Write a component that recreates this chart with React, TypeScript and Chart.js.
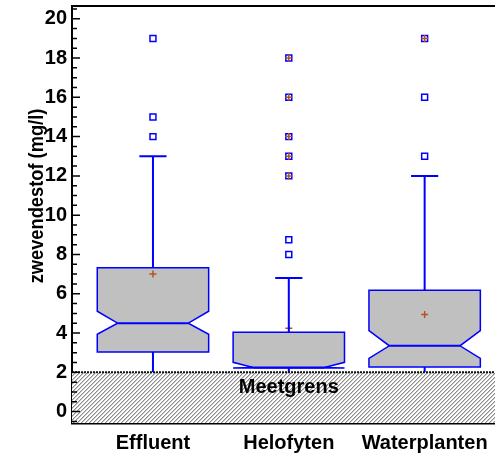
import React, { useEffect, useRef } from 'react';
import { Chart, registerables } from 'chart.js';

Chart.register(...registerables);

const categories = ['Effluent', 'Helofyten', 'Waterplanten'];
const positions = [1, 2, 3];
const whiskerLow = [2, 2, 2];
const q1 = [3.04, 2.22, 2.27];
const median = [4.5, 2.24, 3.35];
const q3 = [7.33, 4.04, 6.18];
const notchLow = [3.94, 2.22, 2.71];
const notchHigh = [5.11, 2.51, 4.12];
const whiskerHigh = [13, 6.8, 12];
const means = [7.0, 4.24, 4.95];
const outliers = [[14, 15, 19], [8, 8.75], [13, 16]];
const farOutliers = [[], [12, 13, 14, 16, 18], [19]];
const yTicks = [0, 2, 4, 6, 8, 10, 12, 14, 16, 18, 20];
const detectionLimit = 2;
const detectionLabel = 'Meetgrens';
const yTitle = 'zwevendestof (mg/l)';

const FONT = "'Liberation Sans', Arial, sans-serif";
const BLUE = '#0000ff';
const BROWN = '#b4541e';

const boxPlugin = {
  id: 'boxPlugin',
  beforeDatasetsDraw(chart: any) {
    const { ctx, scales } = chart;
    const x = scales.x;
    const y = scales.y;
    const halfW = 0.41;
    const innerW = 0.26;
    ctx.save();
    positions.forEach((p, i) => {
      const L = x.getPixelForValue(p - halfW);
      const R = x.getPixelForValue(p + halfW);
      const iL = x.getPixelForValue(p - innerW);
      const iR = x.getPixelForValue(p + innerW);
      const yq3 = y.getPixelForValue(q3[i]);
      const yq1 = y.getPixelForValue(q1[i]);
      const ynh = y.getPixelForValue(notchHigh[i]);
      const ynl = y.getPixelForValue(notchLow[i]);
      const ym = y.getPixelForValue(median[i]);
      ctx.beginPath();
      ctx.moveTo(L, yq3);
      ctx.lineTo(R, yq3);
      ctx.lineTo(R, ynh);
      ctx.lineTo(iR, ym);
      ctx.lineTo(R, ynl);
      ctx.lineTo(R, yq1);
      ctx.lineTo(L, yq1);
      ctx.lineTo(L, ynl);
      ctx.lineTo(iL, ym);
      ctx.lineTo(L, ynh);
      ctx.closePath();
      ctx.fillStyle = '#c0c0c0';
      ctx.fill();
      ctx.strokeStyle = BLUE;
      ctx.lineWidth = 1.5;
      ctx.stroke();
      ctx.beginPath();
      ctx.moveTo(iL, ym);
      ctx.lineTo(iR, ym);
      ctx.lineWidth = 2;
      ctx.stroke();
    });
    ctx.restore();
  },
  afterDatasetsDraw(chart: any) {
    const { ctx, scales, chartArea } = chart;
    const x = scales.x;
    const y = scales.y;
    const capW = 0.1;
    ctx.save();
    ctx.strokeStyle = BLUE;
    ctx.lineWidth = 2;
    positions.forEach((p, i) => {
      const cx = x.getPixelForValue(p);
      ctx.beginPath();
      ctx.moveTo(cx, y.getPixelForValue(q3[i]));
      ctx.lineTo(cx, y.getPixelForValue(whiskerHigh[i]));
      ctx.moveTo(x.getPixelForValue(p - capW), y.getPixelForValue(whiskerHigh[i]));
      ctx.lineTo(x.getPixelForValue(p + capW), y.getPixelForValue(whiskerHigh[i]));
      ctx.moveTo(cx, y.getPixelForValue(q1[i]));
      ctx.lineTo(cx, y.getPixelForValue(whiskerLow[i]));
      ctx.stroke();
    });
    // hatched detection-limit band
    const top = y.getPixelForValue(detectionLimit);
    const bottom = chartArea.bottom;
    const left = chartArea.left;
    const right = chartArea.right;
    ctx.beginPath();
    ctx.rect(left, top, right - left, bottom - top);
    ctx.fillStyle = '#ffffff';
    ctx.fill();
    ctx.save();
    ctx.clip();
    ctx.strokeStyle = '#444';
    ctx.lineWidth = 0.9;
    const h = bottom - top;
    ctx.beginPath();
    for (let sx = left - h; sx < right + 4; sx += 4) {
      ctx.moveTo(sx, bottom);
      ctx.lineTo(sx + h, top);
    }
    ctx.stroke();
    ctx.restore();
    ctx.beginPath();
    ctx.setLineDash([2, 1]);
    ctx.strokeStyle = '#111';
    ctx.lineWidth = 2;
    ctx.moveTo(left, top);
    ctx.lineTo(right, top);
    ctx.stroke();
    ctx.setLineDash([]);
    ctx.restore();
  },
  afterDraw(chart: any) {
    const { ctx, scales, chartArea } = chart;
    const x = scales.x;
    const y = scales.y;
    ctx.save();
    // label in band
    ctx.font = `bold 20px ${FONT}`;
    ctx.fillStyle = '#000';
    ctx.textAlign = 'center';
    ctx.textBaseline = 'middle';
    ctx.fillText(detectionLabel, x.getPixelForValue(2), y.getPixelForValue(1.25));
    // y axis title (condensed, as in the reference)
    ctx.save();
    ctx.translate(37, 196);
    ctx.rotate(-Math.PI / 2);
    ctx.scale(0.87, 1);
    ctx.font = `bold 21px ${FONT}`;
    ctx.fillText(yTitle, 0, 0);
    ctx.restore();
    // top frame
    ctx.strokeStyle = '#000';
    ctx.lineWidth = 2;
    ctx.beginPath();
    ctx.moveTo(chartArea.left - 1, chartArea.top);
    ctx.lineTo(chartArea.right, chartArea.top);
    ctx.stroke();
    // inward y ticks
    ctx.lineWidth = 1.5;
    ctx.beginPath();
    for (let v = -0.5; v <= 20.5; v += 0.5) {
      const py = y.getPixelForValue(v);
      if (py < chartArea.top + 1 || py > chartArea.bottom) continue;
      const major = Math.abs(v % 2) < 1e-6;
      ctx.moveTo(chartArea.left, py);
      ctx.lineTo(chartArea.left + (major ? 8 : 5), py);
    }
    ctx.stroke();
    ctx.restore();
  },
};

export default function App() {
  const ref = useRef<HTMLCanvasElement>(null);
  useEffect(() => {
    if (!ref.current) return;
    const outlierPts: any[] = [];
    const farPts: any[] = [];
    positions.forEach((p, i) => {
      outliers[i].forEach((v) => outlierPts.push({ x: p, y: v }));
      farOutliers[i].forEach((v) => farPts.push({ x: p, y: v }));
    });
    const meanPts = positions.map((p, i) => ({ x: p, y: means[i] }));
    const chart = new Chart(ref.current, {
      type: 'scatter',
      data: {
        datasets: [
          {
            label: 'means',
            data: meanPts,
            order: 2,
            pointStyle: 'cross',
            radius: 3.5,
            borderColor: BROWN,
            borderWidth: 1.5,
            backgroundColor: BROWN,
          },
          {
            label: 'outliers',
            data: [...outlierPts, ...farPts],
            order: 3,
            pointStyle: 'rect',
            radius: 4.2,
            borderColor: BLUE,
            borderWidth: 1.5,
            backgroundColor: '#ffffff',
          },
          {
            label: 'far',
            data: farPts,
            order: 1,
            pointStyle: 'cross',
            radius: 3.5,
            borderColor: BROWN,
            borderWidth: 1.5,
            backgroundColor: BROWN,
          },
        ],
      },
      options: {
        animation: false,
        responsive: false,
        layout: { padding: { top: 6, left: 0, right: 0, bottom: 0 } },
        plugins: { legend: { display: false }, tooltip: { enabled: false } },
        scales: {
          x: {
            type: 'linear',
            min: 0.404,
            max: 3.66,
            afterBuildTicks: (s: any) => {
              s.ticks = positions.map((v) => ({ value: v }));
            },
            afterFit: (s: any) => {
              s.height = 35;
              s.paddingLeft = 0;
              s.paddingRight = 0;
            },
            grid: { display: false, drawTicks: false },
            border: { display: true, color: '#000', width: 2.5 },
            ticks: {
              autoSkip: false,
              maxRotation: 0,
              padding: 8,
              color: '#000',
              font: { family: FONT, size: 20, weight: 'bold' },
              callback: (v: any) => categories[positions.indexOf(v)] ?? '',
            },
          },
          y: {
            type: 'linear',
            min: -0.58,
            max: 20.65,
            afterBuildTicks: (s: any) => {
              s.ticks = yTicks.map((v) => ({ value: v }));
            },
            afterFit: (s: any) => {
              s.width = 72;
              s.paddingTop = 0;
              s.paddingBottom = 0;
            },
            grid: { display: false, drawTicks: false },
            border: { display: true, color: '#000', width: 2 },
            ticks: {
              padding: 5,
              color: '#000',
              font: { family: FONT, size: 20, weight: 'bold' },
            },
          },
        },
      },
      plugins: [boxPlugin],
    });
    return () => chart.destroy();
  }, []);
  return (
    <div style={{ position: 'absolute', left: 0, top: 0, width: 495, height: 458, overflow: 'hidden', background: '#fff' }}>
      <canvas ref={ref} width={520} height={458} style={{ display: 'block' }} />
    </div>
  );
}
